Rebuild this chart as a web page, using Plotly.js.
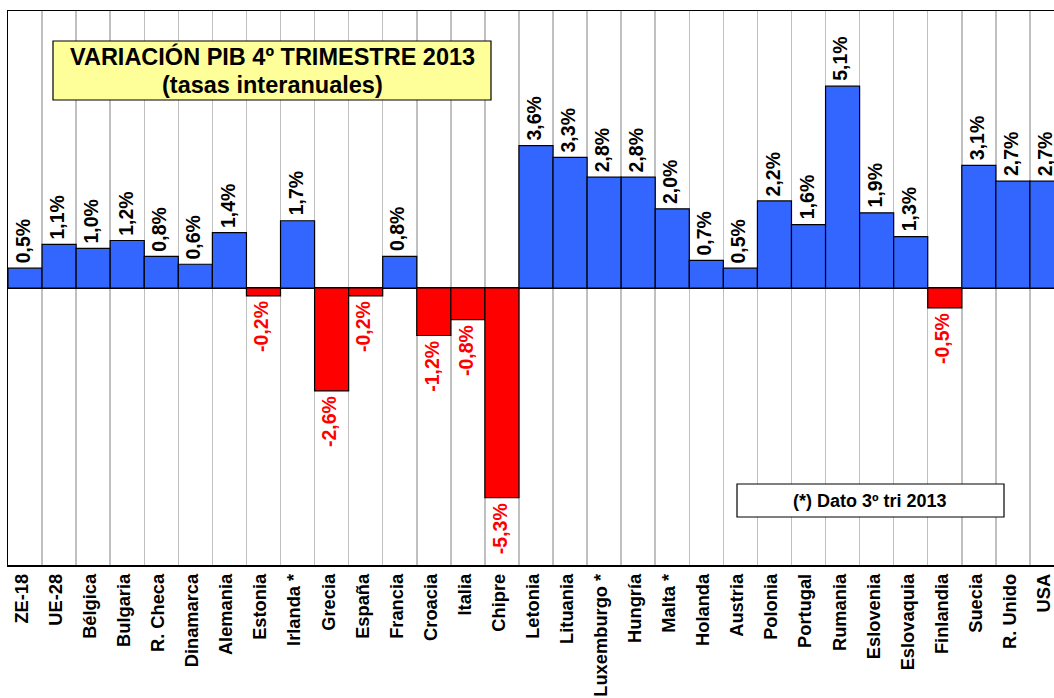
<!DOCTYPE html>
<html><head><meta charset="utf-8">
<script src="https://cdn.plot.ly/plotly-3.0.1.min.js"></script>
<style>html,body{margin:0;padding:0;overflow:hidden;background:#fff;width:1054px;height:698px}</style>
</head><body><div id="c"></div>
<script>
const countries = ["ZE-18","UE-28","Bélgica","Bulgaria","R. Checa","Dinamarca","Alemania","Estonia","Irlanda *","Grecia","España","Francia","Croacia","Italia","Chipre","Letonia","Lituania","Luxemburgo *","Hungría","Malta *","Holanda","Austria","Polonia","Portugal","Rumania","Eslovenia","Eslovaquia","Finlandia","Suecia","R. Unido","USA"];
const gdpGrowth = [0.5,1.1,1.0,1.2,0.8,0.6,1.4,-0.2,1.7,-2.6,-0.2,0.8,-1.2,-0.8,-5.3,3.6,3.3,2.8,2.8,2.0,0.7,0.5,2.2,1.6,5.1,1.9,1.3,-0.5,3.1,2.7,2.7];
const titleLines = ["VARIACIÓN PIB 4º TRIMESTRE 2013","(tasas interanuales)"];
const noteText = "(*) Dato 3º tri 2013";

const labels = gdpGrowth.map(v => v.toFixed(1).replace('.', ',') + '%');
const barColors = gdpGrowth.map(v => v < 0 ? '#FF0000' : '#3366FF');

const W = 1064, H = 698, mL = 8, mT = 11, mB = 133, mR = 0;
const pw = W - mL - mR, ph = H - mT - mB;
const px = x => (x - mL) / pw;
const py = y => 1 - (y - mT) / ph;
const FONT = 'Liberation Sans, Arial, sans-serif';

const trace = {
  type: 'bar', x: countries, y: gdpGrowth,
  marker: {color: barColors, line: {color: '#000', width: 1.2}},
  hoverinfo: 'none'
};

const valueAnnotations = countries.map((c, i) => {
  const v = gdpGrowth[i];
  return {
    xref: 'x', yref: 'y', x: c, y: v, text: '<b>' + labels[i] + '</b>', showarrow: false,
    textangle: -90, xanchor: 'center', yanchor: v < 0 ? 'top' : 'bottom',
    yshift: v < 0 ? -3 : 3, xshift: -2,
    font: {family: FONT, size: 19.5, color: v < 0 ? '#FF0000' : '#000000'}
  };
});

const layout = {
  width: W, height: H,
  margin: {l: mL, r: mR, t: mT, b: mB, pad: 0},
  paper_bgcolor: '#fff', plot_bgcolor: '#fff',
  bargap: 0, showlegend: false,
  font: {family: FONT, color: '#000'},
  xaxis: {
    type: 'category', tickson: 'boundaries', showgrid: true, gridcolor: '#c0c0c0', gridwidth: 1.5,
    ticks: '', tickangle: -90, showline: true, linecolor: '#000', linewidth: 1.5, mirror: true,
    ticklabelshift: -3,
    tickfont: {family: FONT, size: 18.3, weight: 'bold', color: '#000'}, automargin: false, fixedrange: true
  },
  yaxis: {
    range: [-7, 7], showgrid: false, showticklabels: false, ticks: '',
    zeroline: true, zerolinecolor: '#000', zerolinewidth: 1.5,
    showline: true, linecolor: '#000', linewidth: 1.5, fixedrange: true
  },
  shapes: [
    {type: 'rect', xref: 'paper', yref: 'paper', x0: px(53), x1: px(491), y0: py(41), y1: py(100),
     fillcolor: '#FFFF99', line: {color: '#000', width: 1.2}},
    {type: 'rect', xref: 'paper', yref: 'paper', x0: px(737), x1: px(1004), y0: py(484), y1: py(517),
     fillcolor: '#FFFFFF', line: {color: '#000', width: 1.2}}
  ],
  annotations: valueAnnotations.concat([
    {xref: 'paper', yref: 'paper', x: px(272), y: py(56), text: '<b>' + titleLines[0] + '</b>', showarrow: false,
     font: {family: FONT, size: 23.5, color: '#000'}, xanchor: 'center', yanchor: 'middle'},
    {xref: 'paper', yref: 'paper', x: px(272), y: py(85), text: '<b>' + titleLines[1] + '</b>', showarrow: false,
     font: {family: FONT, size: 23.5, color: '#000'}, xanchor: 'center', yanchor: 'middle'},
    {xref: 'paper', yref: 'paper', x: px(870), y: py(501), text: '<b>' + noteText + '</b>', showarrow: false,
     font: {family: FONT, size: 18, color: '#000'}, xanchor: 'center', yanchor: 'middle'}
  ])
};

Plotly.newPlot('c', [trace], layout, {displayModeBar: false, staticPlot: true});
</script></body></html>
